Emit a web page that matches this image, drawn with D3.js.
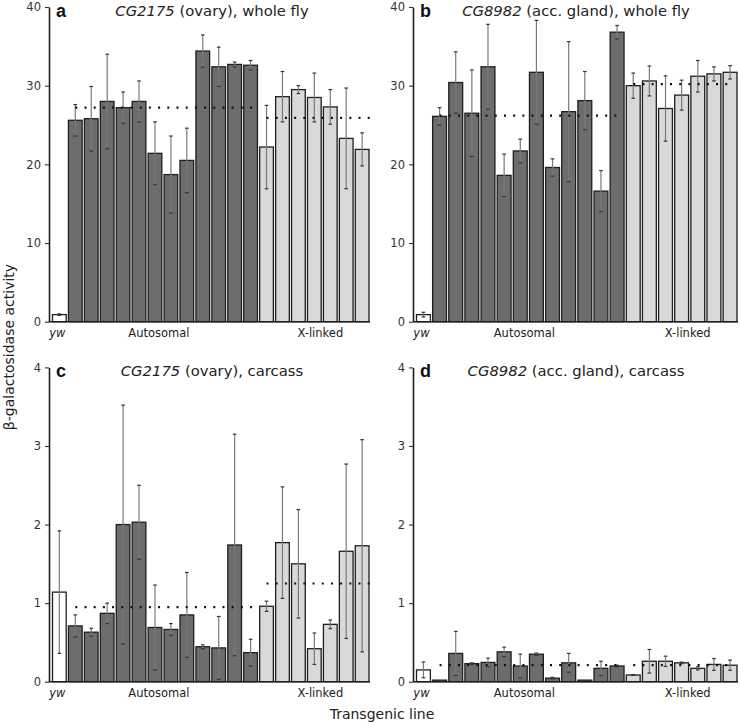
<!DOCTYPE html>
<html><head><meta charset="utf-8">
<script src="https://cdn.jsdelivr.net/npm/d3@7"></script>
<style>body{margin:0;background:#fff} svg{display:block}</style>
</head><body>
<script>
// ---- data ----
const lines = d3.range(20).map(i => "line" + i);
const groups = ["yw", ...Array(12).fill("Autosomal"), ...Array(7).fill("X-linked")];
const groupLabels = ["yw", "Autosomal", "X-linked"];

const valuesA = [0.9, 25.6, 25.8, 28.0, 27.2, 28.0, 21.4, 18.7, 20.5, 34.4, 32.4, 32.7, 32.6,
                 22.2, 28.6, 29.5, 28.5, 27.3, 23.3, 21.9];
const errorsA = [0.1, 2.0, 4.1, 6.0, 2.0, 2.6, 4.0, 4.9, 4.1, 2.05, 2.5, 0.3, 0.6,
                 5.3, 3.2, 0.5, 3.1, 2.2, 6.4, 2.1];
const valuesB = [0.9, 26.1, 30.4, 26.5, 32.4, 18.6, 21.7, 31.7, 19.6, 26.7, 28.1, 16.6, 36.8,
                 30.0, 30.6, 27.1, 28.8, 31.2, 31.5, 31.7];
const errorsB = [0.3, 1.1, 3.9, 5.5, 5.4, 2.7, 1.5, 6.6, 1.1, 8.9, 3.7, 2.6, 0.85,
                 1.6, 1.9, 4.15, 1.9, 2.0, 0.9, 0.85];
const valuesC = [1.14, 0.71, 0.63, 0.87, 2.0, 2.03, 0.69, 0.665, 0.85, 0.445, 0.43, 1.74, 0.37,
                 0.96, 1.77, 1.5, 0.42, 0.73, 1.66, 1.73];
const errorsC = [0.78, 0.14, 0.05, 0.13, 1.52, 0.47, 0.54, 0.075, 0.54, 0.025, 0.4, 1.41, 0.17,
                 0.065, 0.71, 0.69, 0.2, 0.055, 1.11, 1.35];
const valuesD = [0.15, 0.02, 0.36, 0.23, 0.245, 0.38, 0.2, 0.35, 0.045, 0.24, 0.02, 0.17, 0.2,
                 0.085, 0.26, 0.26, 0.24, 0.17, 0.22, 0.21];
const errorsD = [0.1, 0, 0.28, 0.01, 0.055, 0.06, 0.15, 0.015, 0.01, 0.12, 0, 0.09, 0.01,
                 0.005, 0.15, 0.065, 0.01, 0.02, 0.075, 0.065];

const autoMeans = [27.2, 26.2, 0.95, 0.21];
const xMeans = [25.9, 30.2, 1.25, 0.21];

const panelLetters = ["a", "b", "c", "d"];
const panelGenes = ["CG2175", "CG8982", "CG2175", "CG8982"];
const panelRest = [" (ovary), whole fly", " (acc. gland), whole fly", " (ovary), carcass", " (acc. gland), carcass"];
const yMaxes = [40, 40, 4, 4];
const ticksWhole = [0, 10, 20, 30, 40];
const ticksCarcass = [0, 1, 2, 3, 4];

const yLabel = "β-galactosidase activity";
const xLabel = "Transgenic line";

// ---- layout ----
const W = 740, H = 723;
const svg = d3.select("body").append("svg").attr("width", W).attr("height", H);
const font = "'DejaVu Sans', sans-serif";

const panels = [
  {x0: 49,  x1: 369, yTop: 7,     yBot: 321.7, vals: valuesA, errs: errorsA, ticks: ticksWhole},
  {x0: 413, x1: 737, yTop: 7,     yBot: 321.7, vals: valuesB, errs: errorsB, ticks: ticksWhole},
  {x0: 49,  x1: 369, yTop: 367.4, yBot: 681.7, vals: valuesC, errs: errorsC, ticks: ticksCarcass},
  {x0: 413, x1: 737, yTop: 367.4, yBot: 681.7, vals: valuesD, errs: errorsD, ticks: ticksCarcass}
];

const fillFor = g => g === "yw" ? "#ffffff" : (g === "Autosomal" ? "#6d6d6d" : "#d9d9d9");

panels.forEach((p, pi) => {
  const g = svg.append("g");
  const x = d3.scaleBand().domain(lines).range([p.x0 + 3.5, p.x1]).paddingInner(0.14).paddingOuter(0);
  const y = d3.scaleLinear().domain([0, yMaxes[pi]]).range([p.yBot, p.yTop]);
  const bw = x.bandwidth();

  // bars
  g.selectAll("rect.bar").data(lines).join("rect")
    .attr("x", d => x(d))
    .attr("y", (d, i) => y(p.vals[i]))
    .attr("width", bw)
    .attr("height", (d, i) => y(0) - y(p.vals[i]))
    .attr("fill", (d, i) => fillFor(groups[i]))
    .attr("stroke", "#1e1e1e")
    .attr("stroke-width", 1.3);

  // error bars
  const eb = g.selectAll("g.err").data(lines).join("g")
    .filter((d, i) => p.errs[i] > 0);
  const lo = d => { const i = lines.indexOf(d); return y(Math.max(0, p.vals[i] - p.errs[i])); };
  const hi = d => { const i = lines.indexOf(d); return y(p.vals[i] + p.errs[i]); };
  eb.append("line")
    .attr("x1", d => x(d) + bw / 2).attr("x2", d => x(d) + bw / 2)
    .attr("y1", lo).attr("y2", hi)
    .attr("stroke", "#7a7a7a").attr("stroke-width", 1.2);
  [lo, hi].forEach(fn => {
    eb.append("line")
      .attr("x1", d => x(d) + bw / 2 - 1.8).attr("x2", d => x(d) + bw / 2 + 1.8)
      .attr("y1", fn).attr("y2", fn)
      .attr("stroke", "#333").attr("stroke-width", 1.2);
  });

  // mean dotted lines
  const autoIdx = lines.filter((d, i) => groups[i] === "Autosomal");
  const xIdx = lines.filter((d, i) => groups[i] === "X-linked");
  [[autoIdx, autoMeans[pi], 2], [xIdx, xMeans[pi], pi === 0 || pi === 2 ? 9 : 2]].forEach(([ids, m, ext]) => {
    g.append("line")
      .attr("x1", x(ids[0]) + bw / 2)
      .attr("x2", x(ids[ids.length - 1]) + bw / 2 + ext)
      .attr("y1", y(m)).attr("y2", y(m))
      .attr("stroke", "#111").attr("stroke-width", 2.2)
      .attr("stroke-dasharray", "2,7.2");
  });

  // baseline
  g.append("line").attr("x1", p.x0).attr("x2", p.x1 + 1).attr("y1", y(0)).attr("y2", y(0))
    .attr("stroke", "#1e1e1e").attr("stroke-width", 1.4);

  // y axis
  const ax = g.append("g").attr("transform", `translate(${p.x0},0)`)
    .call(d3.axisLeft(y).tickValues(p.ticks).tickSize(4).tickSizeOuter(0).tickPadding(4).tickFormat(d3.format("d")));
  ax.select(".domain").attr("stroke", "#1e1e1e").attr("stroke-width", 1.6);
  ax.selectAll(".tick line").attr("stroke", "#333").attr("stroke-width", 1.1);
  ax.selectAll(".tick text").attr("font-family", font).attr("font-size", 11.5).attr("fill", "#333");

  // group labels
  const centerOf = grp => {
    const ids = lines.filter((d, i) => groups[i] === grp);
    return (x(ids[0]) + x(ids[ids.length - 1]) + bw) / 2;
  };
  const offs = {"yw": -2, "Autosomal": -4, "X-linked": 6};
  groupLabels.forEach(gl => {
    g.append("text")
      .attr("x", centerOf(gl) + offs[gl]).attr("y", p.yBot + 15)
      .attr("text-anchor", "middle")
      .attr("font-family", font).attr("font-size", 11.5)
      .attr("font-style", gl === "yw" ? "italic" : "normal")
      .attr("fill", "#222")
      .text(gl);
  });

  // panel letter
  g.append("text").attr("x", p.x0 + 7).attr("y", p.yTop + 10)
    .attr("font-family", "'Liberation Sans', Arial, sans-serif").attr("font-weight", "bold")
    .attr("font-size", 18).attr("fill", "#111").text(panelLetters[pi]);

  // title
  const t = g.append("text").attr("x", p.x0 + 163).attr("y", p.yTop + 9)
    .attr("text-anchor", "middle").attr("font-family", font).attr("font-size", 14.8).attr("fill", "#222");
  t.append("tspan").attr("font-style", "italic").text(panelGenes[pi]);
  t.append("tspan").text(panelRest[pi]);
});

// axis titles
svg.append("text").attr("transform", "translate(14,347) rotate(-90)")
  .attr("text-anchor", "middle").attr("font-family", font).attr("font-size", 14).attr("fill", "#222")
  .text(yLabel);
svg.append("text").attr("x", 382).attr("y", 719)
  .attr("text-anchor", "middle").attr("font-family", font).attr("font-size", 14).attr("fill", "#222")
  .text(xLabel);
</script>
</body></html>
